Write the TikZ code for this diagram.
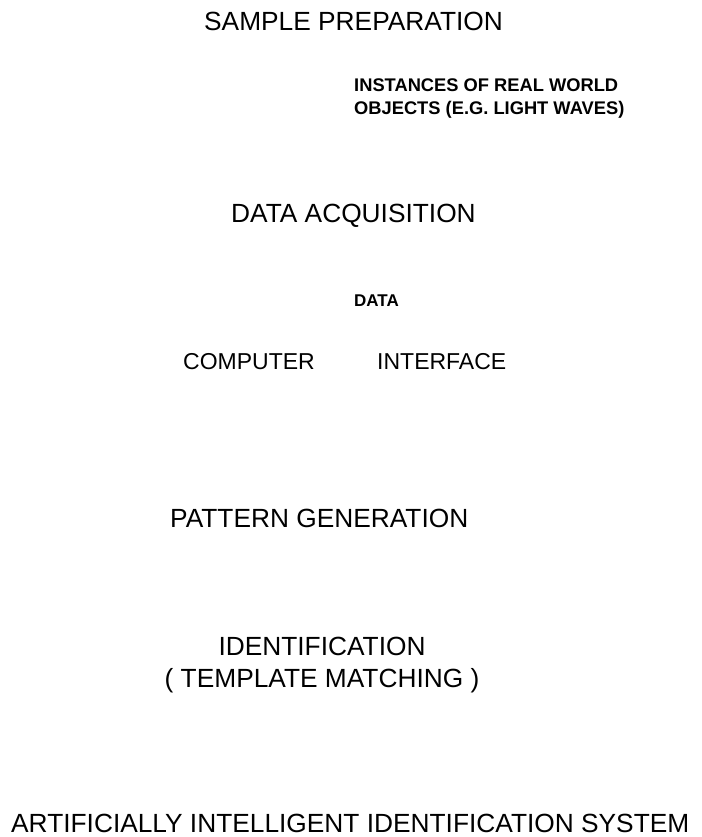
\documentclass[tikz,border=0pt]{standalone}
\usepackage{fontspec}
\setmainfont{Liberation Sans}
\tikzset{
    stage/.style={inner sep=0pt, align=center,
                  font=\fontsize{26.3}{32}\selectfont},
    % testo piccolo in grassetto
    note/.style={inner sep=0pt, align=left,
                 font=\fontsize{18.3}{23}\selectfont\bfseries},
    unit/.style={inner sep=0pt,
                 font=\fontsize{23}{27}\selectfont}
}
\begin{document}
\begin{tikzpicture}[x=1pt,y=-1pt]
  \useasboundingbox (0,0) rectangle (701,837);
  % Nodi
  \node[stage, anchor=north west] (sample) at (204,12) {SAMPLE PREPARATION};
  \node[note, anchor=north west] (inst) at (354,79) {INSTANCES OF REAL WORLD\\OBJECTS (E.G. LIGHT WAVES)};
  \node[note, anchor=north west, font=\fontsize{17}{20}\selectfont\bfseries] (data) at (354,295) {DATA};
  \node[stage, anchor=north west] (acq) at (231,204) {DATA ACQUISITION};
  \node[unit, anchor=north west] (comp) at (183,353) {COMPUTER};
  \node[unit, anchor=north west] (intf) at (377,353) {INTERFACE};
  \node[stage, anchor=north west] (patt) at (170,509) {PATTERN GENERATION};
  \node[stage, anchor=north] (ident) at (322,637) {IDENTIFICATION\\( TEMPLATE MATCHING )};
  \node[stage, anchor=north west] (sys) at (11,814) {ARTIFICIALLY INTELLIGENT IDENTIFICATION SYSTEM};
\end{tikzpicture}
\end{document}
